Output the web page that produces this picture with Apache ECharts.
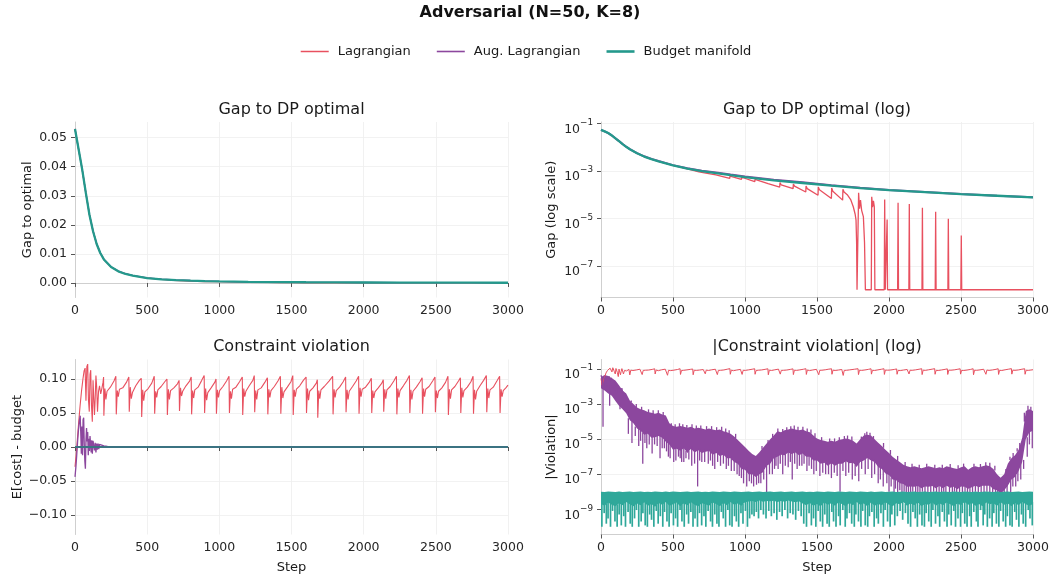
<!DOCTYPE html>
<html>
<head>
<meta charset="utf-8">
<title>Adversarial (N=50, K=8)</title>
<script src="https://cdn.jsdelivr.net/npm/echarts@6/dist/echarts.min.js"></script>
<style>
  html, body { margin: 0; padding: 0; background: #fff; }
  #chart { width: 1052px; height: 579px; }
</style>
</head>
<body>
<div id="chart"></div>
<script>
// gap to DP optimal (top panels)
const gapSteps = [0, 25, 50, 75, 100, 125, 150, 175, 200, 250, 300, 350, 400, 500, 600, 700, 800, 900, 1000, 1200, 1400, 1600, 1800, 2000, 2250, 2500, 2750, 3000];
const gapBudget = [0.053, 0.046, 0.039, 0.031, 0.0235, 0.0178, 0.0134, 0.0103, 0.0081, 0.0055, 0.0040, 0.0031, 0.0025, 0.0017, 0.00125, 0.00097, 0.00080, 0.00066, 0.00055, 0.00040, 0.00031, 0.00024, 0.00019, 0.000155, 0.000128, 0.000105, 0.000090, 0.000077];
const gapAug = [0.053, 0.046, 0.039, 0.031, 0.0236, 0.0179, 0.0135, 0.0104, 0.0082, 0.0056, 0.0041, 0.0032, 0.0026, 0.00175, 0.0013, 0.00102, 0.00085, 0.00070, 0.00058, 0.00042, 0.00033, 0.00025, 0.000195, 0.000158, 0.00013, 0.000106, 0.00009, 0.000077];

// lagrangian gap: saw-tooth under the others, then clipped at 1e-8 with spikes
const gapLagSteps = [0, 25, 50, 75, 100, 125, 150, 175, 200, 250, 300, 350, 400, 500, 600, 680,
  718, 720, 728, 798, 800, 808, 894, 896, 904, 975, 977, 985, 1068, 1070, 1078, 1160, 1162, 1170,
  1241, 1243, 1251, 1334, 1336, 1344, 1422, 1424, 1432, 1507, 1509, 1517, 1600, 1602, 1610, 1678, 1680, 1688,
  1710, 1735, 1752, 1765, 1771, 1775, 1778,
  1782, 1789, 1795, 1802, 1810, 1822, 1830, 1836,
  1877, 1880, 1886, 1892, 1898, 1902,
  1967, 1970, 1974, 1984, 1987, 1990,
  2060, 2063, 2066, 2138, 2141, 2144, 2229, 2232, 2235, 2321, 2324, 2327,
  2409, 2412, 2415, 2499, 2502, 2505, 3000];
const gapLagVals = [0.053, 0.046, 0.039, 0.031, 0.0235, 0.0178, 0.0134, 0.0103, 0.0081, 0.0055, 0.0040, 0.0031, 0.0025, 0.0017, 0.00122, 0.00091,
  0.00083, 0.00092, 0.00080, 0.00068, 0.00076, 0.00066, 0.00048, 0.00060, 0.00052, 0.00044, 0.00054, 0.00047, 0.00035, 0.00044, 0.00038, 0.00029, 0.00035, 0.00030,
  0.00021, 0.00032, 0.00026, 0.00018, 0.00028, 0.00023, 0.00013, 0.00023, 0.00018, 0.000095, 0.00021, 0.00016, 0.000069, 0.00019, 0.00014, 0.000059, 0.00017, 0.00013,
  0.0001, 0.00006, 0.000031, 0.000015, 0.0000085, 0.000001, 1e-8,
  1e-8, 1.2e-4, 2.6e-5, 5.9e-5, 2.2e-5, 1.2e-5, 1e-6, 1e-8,
  1e-8, 8.1e-5, 3e-5, 5.5e-5, 3.1e-5, 1e-8,
  1e-8, 6.3e-5, 1e-8, 1e-8, 9e-6, 1e-8,
  1e-8, 4.6e-5, 1e-8, 1e-8, 4e-5, 1e-8, 1e-8, 2.8e-5, 1e-8, 1e-8, 1.9e-5, 1e-8,
  1e-8, 9.6e-6, 1e-8, 1e-8, 1.9e-6, 1e-8, 1e-8];

// E[cost] - budget, lagrangian
const lagViolSteps = [0, 8, 16, 25, 35, 45, 55, 63, 70, 76, 82, 88, 93, 99, 104, 109, 114, 120, 125, 130,
  135, 140, 145, 150, 156, 163, 170, 178, 186, 194, 198,
  200, 207, 214, 222, 245, 270, 283,
  286, 293, 300, 308, 331, 356, 373,
  376, 383, 390, 398, 421, 446, 459,
  462, 469, 476, 484, 507, 532, 549,
  552, 559, 566, 574, 597, 622, 637,
  640, 647, 654, 662, 685, 710, 721,
  724, 731, 738, 746, 769, 794, 805,
  808, 815, 822, 830, 853, 878, 895,
  898, 905, 912, 920, 943, 968, 977,
  980, 987, 994, 1002, 1025, 1050, 1067,
  1070, 1077, 1084, 1092, 1115, 1140, 1159,
  1162, 1169, 1176, 1184, 1207, 1232, 1242,
  1245, 1252, 1259, 1267, 1290, 1315, 1333,
  1336, 1343, 1350, 1358, 1381, 1406, 1423,
  1426, 1433, 1440, 1448, 1471, 1496, 1509,
  1512, 1519, 1526, 1534, 1557, 1582, 1601,
  1604, 1611, 1618, 1626, 1649, 1672, 1679,
  1682, 1689, 1696, 1704, 1727, 1760, 1785,
  1788, 1795, 1802, 1810, 1833, 1858, 1875,
  1878, 1885, 1892, 1900, 1923, 1948, 1965,
  1968, 1975, 1982, 1990, 2013, 2038, 2053,
  2056, 2063, 2070, 2078, 2101, 2126, 2136,
  2139, 2146, 2153, 2161, 2184, 2209, 2227,
  2230, 2237, 2244, 2252, 2275, 2300, 2317,
  2320, 2327, 2334, 2342, 2365, 2390, 2405,
  2408, 2415, 2422, 2430, 2453, 2478, 2494,
  2497, 2504, 2511, 2519, 2542, 2567, 2584,
  2587, 2594, 2601, 2609, 2632, 2657, 2670,
  2673, 2680, 2687, 2695, 2718, 2743, 2758,
  2761, 2768, 2775, 2783, 2806, 2831, 2850,
  2853, 2860, 2867, 2875, 2898, 2923, 2942,
  2945, 2952, 2959, 2967, 2985, 3000];
const lagViolVals = [-0.029, -0.012, 0.010, 0.035, 0.060, 0.082, 0.100, 0.112, 0.116, 0.068, 0.118, 0.122, 0.070, 0.052, 0.107, 0.113, 0.062, 0.037, 0.098, 0.100,
  0.047, 0.072, 0.105, 0.089, 0.052, 0.082, 0.090, 0.078, 0.086, 0.095, 0.103,
  0.046, 0.086, 0.070, 0.082, 0.088, 0.097, 0.104,
  0.048, 0.083, 0.074, 0.085, 0.087, 0.095, 0.103,
  0.052, 0.088, 0.071, 0.080, 0.090, 0.098, 0.101,
  0.044, 0.084, 0.068, 0.081, 0.086, 0.094, 0.104,
  0.049, 0.082, 0.073, 0.084, 0.089, 0.096, 0.100,
  0.047, 0.085, 0.070, 0.083, 0.087, 0.093, 0.098,
  0.053, 0.087, 0.075, 0.082, 0.090, 0.097, 0.103,
  0.048, 0.083, 0.072, 0.084, 0.088, 0.098, 0.105,
  0.050, 0.086, 0.069, 0.080, 0.087, 0.095, 0.100,
  0.049, 0.084, 0.073, 0.083, 0.089, 0.097, 0.104,
  0.050, 0.082, 0.071, 0.085, 0.088, 0.096, 0.103,
  0.047, 0.086, 0.074, 0.082, 0.090, 0.098, 0.105,
  0.051, 0.083, 0.070, 0.084, 0.087, 0.095, 0.102,
  0.048, 0.085, 0.073, 0.083, 0.089, 0.097, 0.104,
  0.049, 0.088, 0.072, 0.081, 0.088, 0.096, 0.105,
  0.047, 0.084, 0.074, 0.085, 0.090, 0.098, 0.103,
  0.050, 0.086, 0.069, 0.082, 0.087, 0.094, 0.099,
  0.043, 0.083, 0.071, 0.084, 0.089, 0.097, 0.104,
  0.048, 0.085, 0.073, 0.083, 0.088, 0.096, 0.103,
  0.051, 0.084, 0.070, 0.082, 0.089, 0.097, 0.104,
  0.049, 0.087, 0.074, 0.085, 0.088, 0.095, 0.101,
  0.050, 0.083, 0.072, 0.081, 0.087, 0.094, 0.099,
  0.052, 0.085, 0.071, 0.084, 0.089, 0.097, 0.104,
  0.048, 0.086, 0.073, 0.083, 0.090, 0.098, 0.105,
  0.050, 0.084, 0.070, 0.082, 0.088, 0.096, 0.102,
  0.049, 0.086, 0.074, 0.085, 0.089, 0.097, 0.103,
  0.051, 0.083, 0.072, 0.082, 0.087, 0.095, 0.104,
  0.047, 0.085, 0.071, 0.084, 0.089, 0.097, 0.102,
  0.050, 0.087, 0.073, 0.083, 0.088, 0.096, 0.104,
  0.049, 0.084, 0.070, 0.082, 0.090, 0.098, 0.105,
  0.051, 0.086, 0.072, 0.084, 0.088, 0.097, 0.104,
  0.050, 0.085, 0.074, 0.083, 0.087, 0.091];

// E[cost] - budget, augmented lagrangian, first oscillations (signed)
const augEarlySteps = [0, 6, 12, 18, 24, 30, 36, 40, 44, 48, 52, 56, 60, 64, 68, 72, 76, 80, 84, 88,
  92, 96, 100, 104, 108, 112, 116, 120, 125, 130, 135, 140, 145, 150, 155, 160, 165, 170];
const augEarlyVals = [-0.044, -0.030, -0.012, 0.008, 0.025, 0.038, 0.046, 0.020, -0.010, 0.030, -0.012, 0.040, 0.043, 0.005, -0.020, -0.032, 0.010, 0.028, 0.008, 0.022,
  -0.012, 0.012, -0.006, 0.016, 0.004, -0.008, 0.010, -0.010, 0.009, 0.008, -0.005, 0.006, -0.008, 0.005, -0.004, 0.005, -0.003, 0.004];

// |violation| noise bands, sampled every 25 steps: upper edge and lower edge of the solid part
const bandSteps = [0, 25, 50, 75, 100, 125, 150, 175, 200, 225, 250, 275, 300, 325, 350, 375, 400, 425, 450, 475,
  500, 525, 550, 575, 600, 625, 650, 675, 700, 725, 750, 775, 800, 825, 850, 875, 900, 925, 950, 975,
  1000, 1025, 1050, 1075, 1100, 1125, 1150, 1175, 1200, 1225, 1250, 1275, 1300, 1325, 1350, 1375, 1400, 1425, 1450, 1475,
  1500, 1525, 1550, 1575, 1600, 1625, 1650, 1675, 1700, 1725, 1750, 1775, 1800, 1825, 1850, 1875, 1900, 1925, 1950, 1975,
  2000, 2025, 2050, 2075, 2100, 2125, 2150, 2175, 2200, 2225, 2250, 2275, 2300, 2325, 2350, 2375, 2400, 2425, 2450, 2475,
  2500, 2525, 2550, 2575, 2600, 2625, 2650, 2675, 2700, 2725, 2750, 2775, 2800, 2825, 2850, 2875, 2900, 2925, 2950, 2975, 3000];
// augmented lagrangian band
const augBandHi = [0.035, 0.045, 0.04, 0.03, 0.022, 0.012, 0.006,
  4.0e-3, 1.6e-3, 1.0e-3, 6.3e-4, 5.0e-4, 4.5e-4, 3.5e-4, 3.2e-4, 2.8e-4, 3.2e-4, 2.5e-4, 2.2e-4, 8e-5,
  5.6e-5, 5e-5, 5.6e-5, 5e-5, 4.5e-5, 5e-5, 4e-5, 4.5e-5, 4e-5, 3.5e-5, 4e-5, 3.5e-5, 3.2e-5, 3.5e-5, 2.8e-5, 2.5e-5, 2e-5, 1.4e-5, 9e-6, 5.6e-6,
  3.5e-6, 2.2e-6, 1.4e-6, 1.1e-6, 1.8e-6, 3.2e-6, 5.6e-6, 1e-5, 1.6e-5, 2.8e-5, 2.5e-5, 3.2e-5, 3.5e-5, 4e-5, 3.5e-5, 3.2e-5, 3.5e-5, 2.8e-5, 2.5e-5, 1.6e-5,
  1.1e-5, 9e-6, 8e-6, 7e-6, 8e-6, 7e-6, 9e-6, 1e-5, 1.1e-5, 1e-5, 8e-6, 5.6e-6, 1e-5, 1.6e-5, 1.8e-5, 1.6e-5, 1e-5, 6.3e-6, 4e-6, 2.5e-6,
  1.6e-6, 1e-6, 7e-7, 5e-7, 3.5e-7, 2.8e-7, 2.5e-7, 2.8e-7, 2.5e-7, 2.2e-7, 2.5e-7, 2.8e-7, 2.5e-7, 2.2e-7, 2.5e-7, 2.2e-7, 2.8e-7, 2.5e-7, 2.2e-7, 2e-7,
  2.5e-7, 2.8e-7, 1.8e-7, 2.5e-7, 2.8e-7, 2.5e-7, 2.8e-7, 3.2e-7, 2.8e-7, 2e-7, 1e-7, 6.3e-8, 1e-7, 4e-7, 8e-7, 1.2e-6, 2.5e-6, 1.2e-5, 4e-4, 5e-4, 4e-4];
const augBandLo = [8e-3, 6e-3, 4e-3, 3e-3, 1.5e-3, 8e-4, 5e-4,
  3e-4, 1.2e-4, 8e-5, 4e-5, 3e-5, 1.8e-5, 2e-5, 1.2e-5, 1.3e-5, 1.5e-5,
  1.2e-5, 7e-6, 5e-6, 2.5e-6, 2.8e-6, 2.2e-6, 3e-6, 1.6e-6, 2.8e-6, 1.7e-6,
  2.3e-6, 1.6e-6, 1.9e-6, 2.1e-6, 1.3e-6, 1.6e-6, 1.1e-6, 1.3e-6, 8e-7, 8e-7,
  5e-7, 4e-7, 2e-7, 1.8e-7, 1e-7, 1e-7, 7e-8, 1e-7, 1.3e-7, 3e-7,
  4e-7, 8e-7, 1e-6, 1.3e-6, 1.2e-6, 1.7e-6, 1.4e-6, 1.7e-6, 1.2e-6, 1.5e-6,
  1e-6, 1e-6, 6e-7, 6e-7, 4e-7, 4.5e-7, 3e-7, 4.2e-7, 3e-7, 4e-7,
  4e-7, 5.5e-7, 4.2e-7, 4.5e-7, 2.6e-7, 5e-7, 6e-7, 8.5e-7, 6e-7, 5e-7,
  2.6e-7, 2e-7, 1.1e-7, 9e-8, 5e-8, 4.5e-8, 3e-8, 2.8e-8, 1.9e-8, 2e-8,
  1.9e-8, 2.1e-8, 1.6e-8, 2e-8, 1.9e-8, 2.1e-8, 1.6e-8, 2.1e-8, 1.6e-8, 2.2e-8,
  1.7e-8, 1.9e-8, 1.4e-8, 2e-8, 1.9e-8, 1.5e-8, 1.8e-8, 2.2e-8, 1.8e-8, 2.2e-8,
  2.2e-8, 2.2e-8, 1.4e-8, 1.2e-8, 8e-9, 1.2e-8, 2.2e-8, 5e-8, 7e-8, 1.5e-7,
  5e-7, 1e-5, 2.5e-5, 3e-5];
// downward spikes of the augmented lagrangian band
const augSpikeSteps = [14, 60, 132, 215, 262, 290, 318, 355, 372, 410, 440, 468, 505,
  538, 560, 590, 630, 671, 700, 745, 790, 830, 870,
  905, 960, 990, 1012, 1060, 1095, 1150, 1190, 1230, 1262,
  1300, 1328, 1362, 1395, 1430, 1478, 1520, 1560, 1600, 1660,
  1700, 1745, 1790, 1835, 1880, 1925, 1960, 2000, 2035, 2060,
  2090, 2120, 2150, 2185, 2215, 2250, 2290, 2330, 2365, 2395,
  2440, 2470, 2510, 2545, 2580, 2620, 2660, 2700, 2740, 2770,
  2800, 2845, 2880, 2915, 2960, 2995,
  190, 238, 275, 305, 335, 390, 425, 455,
  480, 520, 550, 575, 610, 650, 685, 720, 760, 775, 810, 850, 885,
  925, 945, 975, 1030, 1045, 1080, 1110, 1130, 1170, 1205,
  1215, 1245, 1280, 1315, 1345, 1378, 1410, 1445, 1462, 1495,
  1540, 1580, 1620, 1640, 1680, 1720, 1765, 1810, 1855, 1900,
  1940, 1985, 2015, 2045, 2075, 2105, 2135,
  2165, 2200, 2232, 2270, 2310, 2348, 2380, 2420, 2455, 2490, 2528, 2562,
  2600, 2640, 2680, 2720, 2755, 2785, 2820, 2860, 2895, 2935, 2975];
const augSpikeLo = [5e-5, 8e-4, 5e-4, 6e-6, 4e-6, 4e-7, 3e-6, 1.5e-6, 5e-6, 8e-7, 3e-6, 1e-6, 5e-7,
  1e-6, 5e-7, 8e-7, 3e-7, 2e-8, 5e-7, 4e-7, 2e-7, 3e-7, 2e-7,
  1.5e-7, 8e-8, 3e-8, 2e-8, 2e-8, 3e-8, 4e-9, 1e-7, 2e-7, 1e-7,
  2.5e-7, 5e-8, 2e-7, 3e-7, 1.5e-7, 1e-7, 8e-8, 1e-7, 6e-8, 1e-8,
  8e-8, 5e-8, 4e-8, 1e-7, 6e-8, 3e-8, 2e-8, 1e-8, 6e-9, 8e-9,
  5e-9, 7e-9, 5e-9, 8e-9, 6e-9, 5e-9, 7e-9, 5e-9, 8e-9, 6e-9,
  5e-9, 7e-9, 5e-9, 6e-9, 5e-9, 8e-9, 6e-9, 5e-9, 4e-9, 6e-9,
  6e-9, 8e-9, 2e-8, 5e-8, 1e-6, 3e-6,
  2e-5, 1.5e-5, 8e-6, 6e-6, 5e-6, 4e-6, 3e-6, 2e-6,
  8e-7, 6e-7, 8e-7, 5e-7, 7e-7, 4e-7, 6e-7, 5e-7, 6e-7, 3e-7, 5e-7, 4e-7, 3e-7,
  1.5e-7, 1e-7, 6e-8, 4e-8, 3e-8, 2.5e-8, 3e-8, 5e-8, 1e-7, 2e-7,
  3e-7, 4e-7, 3e-7, 5e-7, 4e-7, 3e-7, 4e-7, 3e-7, 2e-7, 1.5e-7,
  1.2e-7, 1e-7, 1.2e-7, 8e-8, 1.5e-7, 1.2e-7, 8e-8, 2e-7, 2e-7, 1e-7,
  5e-8, 3e-8, 2e-8, 1.5e-8, 1.2e-8, 1e-8, 8e-9,
  1e-8, 8e-9, 1e-8, 9e-9, 1e-8, 8e-9, 1e-8, 9e-9, 1e-8, 8e-9, 1e-8, 9e-9,
  1e-8, 8e-9, 1e-8, 9e-9, 6e-9, 5e-9, 8e-9, 2e-8, 4e-8, 2e-7, 5e-6];
// short upward spikes on the top edge of the augmented lagrangian band
const augUpSteps = [210, 245, 282, 330, 362, 398, 432,
  488, 515, 545, 568, 596, 632, 662, 693, 733, 768, 803, 838, 866, 890,
  935, 1118, 1160, 1192,
  1228, 1262, 1290, 1318, 1342, 1368, 1402, 1432, 1458, 1486,
  1532, 1588, 1622, 1655, 1690, 1712, 1742, 1808, 1832, 1846, 1868, 1892,
  1962, 2010, 2060, 2112, 2160, 2210, 2262, 2318, 2370, 2425, 2480, 2518, 2590, 2635, 2672, 2700, 2735, 2812, 2840, 2862, 2890, 2908, 2940, 2965, 2985];
const augUpHi = [1.6e-3, 1e-3, 7e-4, 5e-4, 4.5e-4, 4.5e-4, 3.5e-4,
  8e-5, 7e-5, 8e-5, 7e-5, 6.5e-5, 7e-5, 6e-5, 6e-5, 5.5e-5, 5.5e-5, 4.8e-5, 5e-5, 4e-5, 3.2e-5,
  2e-5, 4e-6, 9e-6, 2e-5,
  4e-5, 3.8e-5, 4.8e-5, 5.5e-5, 6e-5, 5e-5, 5e-5, 4e-5, 3.5e-5, 2.2e-5,
  1.3e-5, 1.1e-5, 1.1e-5, 1.3e-5, 1.5e-5, 1.6e-5, 1.4e-5, 1.4e-5, 2.2e-5, 2.6e-5, 2.3e-5, 1.5e-5,
  6e-6, 2.4e-6, 1.1e-6, 5e-7, 4e-7, 3.5e-7, 4e-7, 3.5e-7, 3.5e-7, 3.8e-7, 3.2e-7, 4e-7, 4e-7, 3.8e-7, 4.8e-7, 4.5e-7, 3e-7, 2e-7, 1e-6, 1.6e-6, 3e-6, 6e-6, 1e-4, 8e-4, 7e-4];
// budget manifold band, whole run
const budBandHi = [1e-8, 9.6e-9, 1.03e-8, 1e-8, 9.8e-9, 1.04e-8, 9.7e-9, 1e-8, 1.02e-8, 9.6e-9,
  1e-8, 1.03e-8, 9.8e-9, 1e-8, 9.6e-9, 1.04e-8, 1e-8, 9.8e-9, 1.02e-8, 9.7e-9,
  1.03e-8, 1e-8, 9.6e-9, 1e-8, 1.04e-8, 9.8e-9, 1e-8, 1.02e-8, 9.7e-9, 1e-8,
  9.6e-9, 1.03e-8, 1e-8, 9.8e-9, 1.04e-8, 1e-8, 9.7e-9, 1.02e-8, 1e-8, 9.6e-9,
  1e-8, 1.04e-8, 9.8e-9, 1e-8, 1.02e-8, 9.7e-9, 1e-8, 1.03e-8, 9.6e-9, 1e-8,
  1.02e-8, 9.8e-9, 1e-8, 1.04e-8, 9.7e-9, 1e-8, 1.03e-8, 9.6e-9, 1e-8, 9.8e-9,
  1.04e-8, 1e-8, 9.7e-9, 1.02e-8, 1e-8, 9.6e-9, 1.03e-8, 1e-8, 9.8e-9, 1.04e-8,
  1e-8, 9.7e-9, 1.02e-8, 1e-8, 9.6e-9, 1.03e-8, 9.8e-9, 1e-8, 1.04e-8, 9.7e-9,
  1e-8, 1.02e-8, 9.6e-9, 1e-8, 1.03e-8, 9.8e-9, 1e-8, 1.04e-8, 9.7e-9, 1e-8,
  1.02e-8, 9.6e-9, 1e-8, 1.03e-8, 9.8e-9, 1.04e-8, 1e-8, 9.7e-9, 1.02e-8, 1e-8,
  9.6e-9, 1.03e-8, 1e-8, 9.8e-9, 1.04e-8, 9.7e-9, 1e-8, 1.02e-8, 1e-8, 9.6e-9,
  1.03e-8, 9.8e-9, 1e-8, 1.04e-8, 9.7e-9, 1e-8, 1.02e-8, 9.6e-9, 1e-8, 1.03e-8, 1e-8];
const budBandLo = [2e-9, 1.6e-9, 2.4e-9, 1.8e-9, 1.5e-9, 2.2e-9, 1.7e-9, 2.6e-9, 1.9e-9, 1.5e-9,
  2.1e-9, 1.7e-9, 2.5e-9, 1.6e-9, 2e-9, 1.4e-9, 2.3e-9, 1.8e-9, 2.6e-9, 1.6e-9,
  1.9e-9, 2.4e-9, 1.5e-9, 2.1e-9, 1.7e-9, 2.5e-9, 1.8e-9, 1.5e-9, 2.2e-9, 1.9e-9,
  1.6e-9, 2.4e-9, 2e-9, 1.5e-9, 2.3e-9, 1.7e-9, 2.6e-9, 1.8e-9, 2.1e-9, 1.6e-9,
  2.5e-9, 2.8e-9, 3e-9, 2.6e-9, 3.2e-9, 2.7e-9, 3e-9, 2.9e-9, 3.1e-9, 2.6e-9,
  3e-9, 2.7e-9, 3.2e-9, 2.8e-9, 2.5e-9, 2.9e-9, 2.1e-9, 1.7e-9, 2.3e-9, 1.6e-9,
  2e-9, 1.5e-9, 2.4e-9, 1.8e-9, 2.2e-9, 1.6e-9, 2.5e-9, 1.9e-9, 1.5e-9, 2.3e-9,
  1.7e-9, 2.6e-9, 1.8e-9, 2.1e-9, 1.5e-9, 2.4e-9, 1.6e-9, 2e-9, 1.7e-9, 2.5e-9,
  1.8e-9, 1.5e-9, 2.2e-9, 1.9e-9, 2.6e-9, 1.6e-9, 2.1e-9, 1.7e-9, 2.4e-9, 1.5e-9,
  2e-9, 1.8e-9, 2.5e-9, 1.6e-9, 2.2e-9, 1.7e-9, 2.4e-9, 1.9e-9, 1.5e-9, 2.1e-9,
  1.7e-9, 2.6e-9, 1.8e-9, 2.3e-9, 1.6e-9, 2e-9, 1.5e-9, 2.4e-9, 1.9e-9, 2.2e-9,
  1.6e-9, 2.5e-9, 1.8e-9, 2.1e-9, 1.5e-9, 2.3e-9, 1.7e-9, 2.6e-9, 1.9e-9, 1.6e-9, 2e-9];
// downward spikes of the budget manifold band
const budSpikeSteps = [6, 22, 37, 49, 66, 80, 97, 112, 126, 141,
  158, 170, 188, 203, 217, 233, 246, 262, 279, 291,
  307, 322, 338, 351, 367, 384, 397, 412, 429, 441,
  458, 473, 487, 503, 518, 532, 549, 562, 578, 595,
  608, 624, 639, 653, 670, 684, 699, 715, 728, 744,
  761, 774, 790, 805, 819, 836, 849, 865, 881, 894,
  910, 927, 940, 956, 972, 986, 1003, 1017, 1032, 1048,
  1063, 1079, 1094, 1110, 1128, 1146, 1165, 1183, 1202, 1221,
  1240, 1258, 1277, 1296, 1314, 1333, 1352, 1371, 1390, 1408,
  1427, 1445, 1461, 1476, 1492, 1508, 1523, 1539, 1554, 1570,
  1585, 1603, 1615, 1632, 1650, 1661, 1679, 1696, 1708, 1726,
  1741, 1759, 1770, 1788, 1805, 1817, 1835, 1852, 1864, 1881,
  1897, 1914, 1926, 1944, 1961, 1973, 1990, 2008, 2020, 2040,
  2058, 2077, 2095, 2114, 2132, 2150, 2166, 2182, 2197, 2213,
  2229, 2246, 2258, 2276, 2293, 2305, 2323, 2340, 2352, 2370,
  2385, 2403, 2415, 2432, 2450, 2462, 2479, 2497, 2509, 2526,
  2542, 2560, 2571, 2589, 2607, 2618, 2636, 2654, 2665, 2683,
  2699, 2716, 2728, 2746, 2763, 2775, 2793, 2810, 2822, 2840,
  2855, 2873, 2885, 2902, 2920, 2932, 2949, 2967, 2979, 2995];
const budSpikeLo = [1e-10, 6e-10, 1.5e-10, 3e-10, 1e-10, 8e-10, 2e-10, 1e-10, 5e-10, 1.2e-10,
  4e-10, 1e-10, 7e-10, 1.5e-10, 1e-10, 3e-10, 9e-10, 1e-10, 2e-10, 6e-10,
  1.2e-10, 1e-10, 5e-10, 2.5e-10, 1e-10, 8e-10, 1.5e-10, 4e-10, 1e-10, 7e-10,
  2e-10, 1e-10, 6e-10, 1.2e-10, 3e-10, 1e-10, 9e-10, 2e-10, 1e-10, 5e-10,
  1.5e-10, 7e-10, 1e-10, 3e-10, 1e-10, 6e-10, 1.2e-10, 4e-10, 1e-10, 8e-10,
  2e-10, 1e-10, 5e-10, 1.5e-10, 1e-10, 7e-10, 3e-10, 1e-10, 9e-10, 1.2e-10,
  1e-10, 4e-10, 2e-10, 1e-10, 6e-10, 1.5e-10, 8e-10, 1e-10, 3e-10, 5e-10,
  4e-10, 7e-10, 3e-10, 9e-10, 5e-10, 3e-10, 8e-10, 4e-10, 6e-10, 2.5e-10,
  7e-10, 4e-10, 9e-10, 3e-10, 6e-10, 5e-10, 2.5e-10, 8e-10, 4e-10, 1.5e-10,
  1e-10, 6e-10, 1.2e-10, 3e-10, 1e-10, 8e-10, 2e-10, 1e-10, 5e-10, 1.5e-10,
  1e-10, 7e-10, 2e-10, 1e-10, 4e-10, 1.2e-10, 9e-10, 1e-10, 3e-10, 6e-10,
  1.5e-10, 1e-10, 5e-10, 2e-10, 1e-10, 8e-10, 1.2e-10, 1e-10, 4e-10, 7e-10,
  1e-10, 3e-10, 1.5e-10, 6e-10, 1e-10, 9e-10, 2e-10, 1e-10, 5e-10, 1.2e-10,
  4e-10, 8e-10, 2.5e-10, 6e-10, 1.5e-10, 1e-10, 7e-10, 3e-10, 1e-10, 5e-10,
  1.2e-10, 1e-10, 6e-10, 2e-10, 1e-10, 9e-10, 1.5e-10, 4e-10, 1e-10, 7e-10,
  2e-10, 1e-10, 5e-10, 1.2e-10, 8e-10, 1e-10, 3e-10, 1e-10, 6e-10, 1.5e-10,
  1e-10, 4e-10, 1e-10, 7e-10, 2e-10, 1e-10, 9e-10, 1.2e-10, 5e-10, 1e-10,
  3e-10, 1e-10, 6e-10, 1.5e-10, 1e-10, 8e-10, 2e-10, 1e-10, 4e-10, 1.2e-10,
  1e-10, 7e-10, 2.5e-10, 1e-10, 5e-10, 1.5e-10, 1e-10, 9e-10, 3e-10, 1.2e-10];

const LAG = '#e8505f';
const AUG = '#8c479e';
const BUD = '#24998c';
const BUD_BAND = '#2fa89a';
const FONT = 'DejaVu Sans';
const TICK_FS = 12.5;

const pairs = (xs, ys) => xs.map((x, i) => [x, ys[i]]);
const absVals = vs => vs.map(v => Math.abs(v));
const augTailSteps = bandSteps.slice(7);
const augTailHi = augBandHi.slice(7);

function xAxisFor(i, named) {
  return {
    type: 'value', gridIndex: i, min: 0, max: 3000, interval: 500,
    name: named ? 'Step' : '', nameLocation: 'middle', nameGap: 27,
    nameTextStyle: { fontSize: 13, color: '#1a1a1a', fontFamily: FONT },
    axisLine: { lineStyle: { color: '#cfcfcf', width: 1 } },
    axisTick: { length: 4, lineStyle: { color: '#555' } },
    axisLabel: { fontSize: TICK_FS, color: '#262626', margin: 7, fontFamily: FONT, formatter: v => String(v) },
    splitLine: { lineStyle: { color: '#eeeeee', width: 0.8 } }
  };
}

function linAxis(i, name, gap, min, max, ticks, fmt) {
  return {
    type: 'value', gridIndex: i, min, max,
    name, nameLocation: 'middle', nameGap: gap,
    nameTextStyle: { fontSize: 13, color: '#1a1a1a', fontFamily: FONT },
    axisLine: { show: true, lineStyle: { color: '#cfcfcf', width: 1 } },
    axisTick: { show: true, length: 4, lineStyle: { color: '#555' }, customValues: ticks },
    axisLabel: { fontSize: TICK_FS, color: '#262626', margin: 8, fontFamily: FONT, customValues: ticks, formatter: fmt },
    splitLine: { lineStyle: { color: '#efefef', width: 0.8 } }
  };
}

function logAxis(i, name, gap, min, max, ticks) {
  return {
    type: 'log', logBase: 10, gridIndex: i, min, max,
    name, nameLocation: 'middle', nameGap: gap,
    nameTextStyle: { fontSize: 13, color: '#1a1a1a', fontFamily: FONT },
    axisLine: { show: true, lineStyle: { color: '#cfcfcf', width: 1 } },
    axisTick: { show: true, length: 4, lineStyle: { color: '#555' }, customValues: ticks },
    axisLabel: {
      margin: 8, customValues: ticks, padding: [7, 0, 0, 0],
      formatter: v => '{b|10}{s|−' + Math.round(-Math.log10(v)) + '}',
      rich: {
        b: { fontSize: TICK_FS, color: '#262626', fontFamily: FONT, lineHeight: 18, verticalAlign: 'bottom' },
        s: { fontSize: 8.8, color: '#262626', fontFamily: FONT, lineHeight: 8, verticalAlign: 'top' }
      }
    },
    splitLine: { lineStyle: { color: '#efefef', width: 0.8 } }
  };
}

function line(name, idx, data, color, width) {
  return {
    name, type: 'line', xAxisIndex: idx, yAxisIndex: idx, data,
    showSymbol: false, symbol: 'none', silent: true,
    lineStyle: { color, width }, itemStyle: { color }
  };
}

// solid part of a noisy band: one polygon between upper and lower edge
function bandArea(name, idx, steps, hi, lo, color) {
  return {
    name, type: 'custom', xAxisIndex: idx, yAxisIndex: idx, silent: true,
    data: steps.map((s, i) => [s, lo[i], hi[i]]),
    encode: { x: 0, y: [1, 2] },
    itemStyle: { color },
    renderItem: (params, api) => {
      if (params.dataIndex !== 0) return null;
      const upper = steps.map((s, i) => api.coord([s, hi[i]]));
      const lower = steps.map((s, i) => api.coord([s, lo[i]])).reverse();
      return { type: 'polygon', shape: { points: upper.concat(lower) }, style: { fill: color } };
    }
  };
}

// thin spikes leaving the band: each starts inside the band edge (nearest sample times factor)
function bandSpikes(name, idx, spikeSteps, spikeVals, steps, edge, factor, color, width) {
  return {
    name, type: 'custom', xAxisIndex: idx, yAxisIndex: idx, silent: true,
    data: spikeSteps.map((s, i) => [s, spikeVals[i]]),
    encode: { x: 0, y: 1 },
    itemStyle: { color },
    renderItem: (params, api) => {
      const s = api.value(0);
      const k = Math.min(edge.length - 1, Math.max(0, Math.round((s - steps[0]) / 25)));
      const a = api.coord([s, edge[k] * factor]);
      const b = api.coord([s, api.value(1)]);
      return { type: 'line', shape: { x1: a[0], y1: a[1], x2: b[0], y2: b[1] },
               style: { stroke: color, lineWidth: width } };
    }
  };
}

const chart = echarts.init(document.getElementById('chart'), null, { renderer: 'canvas' });
const subTitle = (text, x, y) => ({
  text, left: x, top: y, textAlign: 'center', padding: 0,
  textStyle: { fontSize: 16, fontWeight: 'normal', color: '#1a1a1a', fontFamily: FONT }
});

chart.setOption({
  animation: false,
  backgroundColor: '#ffffff',
  title: [
    { text: 'Adversarial (N=50, K=8)', left: 530, top: 5, textAlign: 'center', padding: 0,
      textStyle: { fontSize: 16, fontWeight: 'bold', color: '#111', fontFamily: FONT } },
    subTitle('Gap to DP optimal', 291.5, 102),
    subTitle('Gap to DP optimal (log)', 817, 102),
    subTitle('Constraint violation', 291.5, 339),
    subTitle('|Constraint violation| (log)', 817, 339)
  ],
  legend: {
    top: 40, left: 'center', selectedMode: false,
    itemWidth: 28, itemHeight: 12, itemGap: 26,
    textStyle: { fontSize: 13, color: '#1a1a1a', fontFamily: FONT, padding: [0, 0, 0, 4] },
    data: [
      { name: 'Lagrangian', icon: 'path://M0,0h28v1.5h-28z' },
      { name: 'Aug. Lagrangian', icon: 'path://M0,0h28v1.6h-28z' },
      { name: 'Budget manifold', icon: 'path://M0,0h28v2.6h-28z' }
    ]
  },
  grid: [
    { left: 75, top: 122, width: 433, height: 175.5 },
    { left: 601, top: 122, width: 432, height: 175.5 },
    { left: 75, top: 359.5, width: 433, height: 175 },
    { left: 601, top: 359.5, width: 432, height: 175 }
  ],
  xAxis: [xAxisFor(0, false), xAxisFor(1, false), xAxisFor(2, true), xAxisFor(3, true)],
  yAxis: [
    linAxis(0, 'Gap to optimal', 41, -0.005, 0.0554, [0, 0.01, 0.02, 0.03, 0.04, 0.05], v => v.toFixed(2)),
    logAxis(1, 'Gap (log scale)', 43, Math.pow(10, -8.325), Math.pow(10, -0.944), [1e-7, 1e-5, 1e-3, 1e-1]),
    linAxis(2, 'E[cost] - budget', 51, -0.1287, 0.1287, [-0.1, -0.05, 0, 0.05, 0.1],
      v => (v < 0 ? '−' : '') + Math.abs(v).toFixed(2)),
    logAxis(3, '|Violation|', 42.5, Math.pow(10, -10.44), Math.pow(10, -0.458), [1e-9, 1e-7, 1e-5, 1e-3, 1e-1])
  ],
  series: [
    // top left
    line('Lagrangian', 0, pairs(gapLagSteps, gapLagVals), LAG, 1.3),
    line('Aug. Lagrangian', 0, pairs(gapSteps, gapAug), AUG, 1.3),
    line('Budget manifold', 0, pairs(gapSteps, gapBudget), BUD, 2.3),
    // top right
    line('Lagrangian', 1, pairs(gapLagSteps, gapLagVals), LAG, 1.3),
    line('Aug. Lagrangian', 1, pairs(gapSteps, gapAug), AUG, 2),
    line('Budget manifold', 1, pairs(gapSteps, gapBudget), BUD, 2.3),
    // bottom left
    line('Lagrangian', 2, pairs(lagViolSteps, lagViolVals), LAG, 1.1),
    line('Aug. Lagrangian', 2, pairs(augEarlySteps, augEarlyVals).concat(pairs(augTailSteps, augTailHi)), AUG, 1.3),
    line('Budget manifold', 2, pairs(bandSteps, budBandHi), '#3b7382', 2.2),
    // bottom right
    line('Lagrangian', 3, pairs(lagViolSteps, absVals(lagViolVals)), LAG, 1),
    line('Aug. Lagrangian', 3, pairs(augEarlySteps, absVals(augEarlyVals)), AUG, 1.2),
    bandArea('Aug. Lagrangian', 3, bandSteps, augBandHi, augBandLo, AUG),
    bandSpikes('Aug. Lagrangian', 3, augSpikeSteps, augSpikeLo, bandSteps, augBandLo, 1.3, AUG, 1.3),
    bandSpikes('Aug. Lagrangian', 3, augUpSteps, augUpHi, bandSteps, augBandHi, 0.8, AUG, 1.3),
    bandArea('Budget manifold', 3, bandSteps, budBandHi, budBandLo, BUD_BAND),
    bandSpikes('Budget manifold', 3, budSpikeSteps, budSpikeLo, bandSteps, budBandLo, 1.3, BUD_BAND, 1.7)
  ]
});
</script>
</body>
</html>
